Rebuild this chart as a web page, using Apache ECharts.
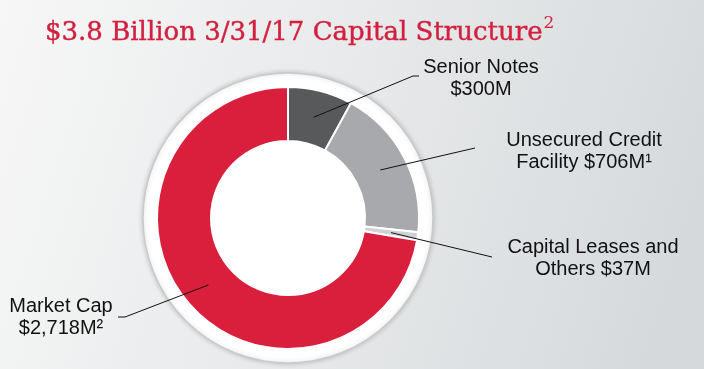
<!DOCTYPE html>
<html><head><meta charset="utf-8">
<script src="https://cdn.jsdelivr.net/npm/echarts@6/dist/echarts.min.js"></script>
<style>html,body{margin:0;padding:0;}#c{width:704px;height:369px;}</style>
</head><body><div id="c"></div>
<script>
const categories = ['Senior Notes', 'Unsecured Credit Facility', 'Capital Leases and Others', 'Market Cap'];
const values = [300, 706, 37, 2718];
const labelLines1 = ['Senior Notes', 'Unsecured Credit', 'Capital Leases and', 'Market Cap'];
const labelLines2 = ['$300M', 'Facility $706M¹', 'Others $37M', '$2,718M²'];
const colors = ['#58595b', '#a7a9ac', '#d0d2d4', '#da1f3d'];

const CX = 288, CY = 218, R0 = 77, R1 = 131, RBAND = 145;
const labelPos = [[481, 78], [584, 151], [593, 258], [61, 317]];
const lineEnds = [[[413, 76], [419, 76]], [[475, 148]], [[492, 257]], [[125, 317], [118, 317]]];

const total = values.reduce((a, b) => a + b, 0);
const midAngles = [];
let acc = 0;
values.forEach(v => { midAngles.push((acc + v / 2) / total * 2 * Math.PI); acc += v; });

const pieData = categories.map((c, i) => ({name: c, value: values[i], itemStyle: {color: colors[i]}}));

const chart = echarts.init(document.getElementById('c'));
chart.setOption({
  backgroundColor: {
    type: 'linear', x: 0, y: 0, x2: 1, y2: 0.6,
    colorStops: [{offset: 0, color: '#f7f7f7'}, {offset: 0.5, color: '#e7e9ea'}, {offset: 1, color: '#d6d9dc'}]
  },
  title: {
    text: '{t|$3.8 Billion 3/31/17 Capital Structure}{s|2}',
    left: 45, top: 12, padding: 0,
    textStyle: {
      fontWeight: 'normal',
      rich: {
        t: {fontFamily: 'DejaVu Serif', fontWeight: 'normal', fontSize: 26, color: '#d2203e', lineHeight: 34, verticalAlign: 'bottom', textBorderColor: '#d2203e', textBorderWidth: 0.4},
        s: {fontFamily: 'DejaVu Serif', fontWeight: 'normal', fontSize: 17, color: '#d2203e', lineHeight: 34, verticalAlign: 'top', padding: [3, 0, 0, 1]}
      }
    }
  },
  series: [
    {
      type: 'pie', silent: true, z: 1, center: [CX, CY], radius: [0, RBAND],
      label: {show: false}, labelLine: {show: false},
      itemStyle: {color: '#ffffff', borderColor: '#c8cacc', borderWidth: 1.5, shadowBlur: 5, shadowColor: 'rgba(0,0,0,0.18)'},
      data: [{value: 1, name: 'band'}], animation: false
    },
    {
      type: 'pie', z: 2, center: [CX, CY], radius: [R0, R1], startAngle: 90, clockwise: true,
      animation: false,
      itemStyle: {borderColor: '#ffffff', borderWidth: 2},
      label: {show: false}, labelLine: {show: false},
      data: pieData
    },
    {
      type: 'pie', z: 3, silent: true, center: [CX, CY], radius: [R0, R1], startAngle: 90, clockwise: true,
      animation: false,
      itemStyle: {color: 'rgba(0,0,0,0)', borderWidth: 0},
      label: {
        show: true, position: 'outside',
        formatter: p => labelLines1[p.dataIndex] + '\n' + labelLines2[p.dataIndex],
        fontFamily: 'Liberation Sans', fontSize: 20, lineHeight: 22, color: '#111', align: 'center'
      },
      labelLine: {show: true, lineStyle: {color: '#111', width: 1}},
      labelLayout: function (p) {
        const i = p.dataIndex;
        const a = midAngles[i];
        const rm = (R0 + R1) / 2;
        const start = [CX + rm * Math.sin(a), CY - rm * Math.cos(a)];
        return {
          x: labelPos[i][0], y: labelPos[i][1], align: 'center', verticalAlign: 'middle',
          labelLinePoints: [start].concat(lineEnds[i])
        };
      },
      data: categories.map((c, i) => ({name: c, value: values[i]}))
    }
  ]
});
</script></body></html>
